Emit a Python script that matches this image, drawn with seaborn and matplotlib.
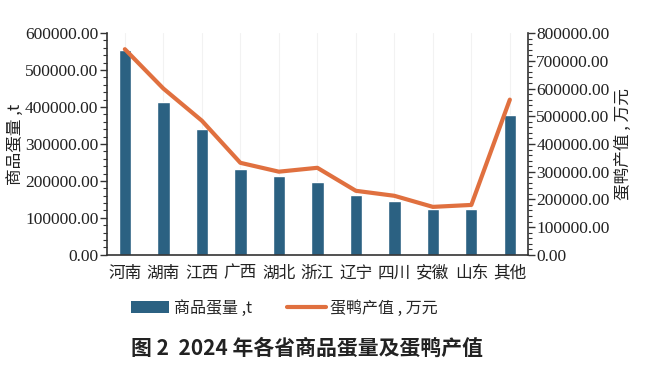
import matplotlib
matplotlib.use("Agg")
import matplotlib.pyplot as plt
from matplotlib.ticker import MultipleLocator, FormatStrFormatter
from matplotlib.patches import Patch
from matplotlib.lines import Line2D
import seaborn as sns
import pandas as pd

# 数据
provinces = ["河南", "湖南", "江西", "广西", "湖北", "浙江", "辽宁", "四川", "安徽", "山东", "其他"]
egg_volume = [555000, 414000, 341000, 231000, 214000, 198000, 162000, 146000, 124000, 124000, 379000]
duck_value = [742000, 600000, 484000, 332000, 300000, 314000, 231000, 213000, 173000, 180000, 560000]

bar_color = "#2b6182"
line_color = "#e0703f"
cjk = ["Noto Sans CJK SC", "DejaVu Sans"]
num_font = "Liberation Serif"

sns.set_theme(style="white")
plt.rcParams["font.family"] = cjk
plt.rcParams["axes.unicode_minus"] = False

df = pd.DataFrame({"省份": provinces, "蛋量": egg_volume, "产值": duck_value})

fig = plt.figure(figsize=(6.55, 3.72), dpi=100)
ax = fig.add_axes([0.163, 0.315, 0.643, 0.596])

sns.barplot(data=df, x="省份", y="蛋量", color=bar_color, width=0.32,
            saturation=1, ax=ax, zorder=2)
ax2 = ax.twinx()
sns.lineplot(data=df, x="省份", y="产值", color=line_color, linewidth=3,
             sort=False, ax=ax2, zorder=3)

ax.set_xlim(-0.47, 10.47)
ax.set_ylim(0, 600000)
ax2.set_ylim(0, 800000)

# 轴格式
for a in (ax, ax2):
    a.yaxis.set_major_locator(MultipleLocator(100000))
    a.yaxis.set_minor_locator(MultipleLocator(20000))
    a.yaxis.set_major_formatter(FormatStrFormatter("%.2f"))
    a.tick_params(axis="y", which="major", length=5, width=1, color="#333333",
                  direction="out", pad=1, labelsize=12.5, labelcolor="#222222",
                  labelfontfamily=num_font)
    a.tick_params(axis="y", which="minor", length=3, width=0.8, color="#333333",
                  direction="out")

ax.tick_params(axis="x", length=0, pad=7, labelsize=12, labelcolor="#222222")

ax.grid(axis="x", color="#f2f2f2", linewidth=0.8)
ax.set_axisbelow(True)

for a in (ax, ax2):
    a.spines["top"].set_visible(False)
    for s in ("left", "right", "bottom"):
        a.spines[s].set_color("#333333")
        a.spines[s].set_linewidth(1.2)
ax.spines["right"].set_visible(False)
ax2.spines["left"].set_visible(False)
ax2.spines["bottom"].set_visible(False)

ax.set_xlabel("")
ax.set_ylabel("商品蛋量 ,t", fontsize=12, color="#222222", labelpad=0)
ax2.set_ylabel("蛋鸭产值 , 万元", fontsize=12, color="#222222", rotation=90,
               labelpad=4)

# 图例
handles = [Patch(facecolor=bar_color, edgecolor="none"),
           Line2D([0], [0], color=line_color, linewidth=3)]
fig.legend(handles, ["商品蛋量 ,t", "蛋鸭产值 , 万元"], loc="center left",
           bbox_to_anchor=(0.178, 0.172), ncol=2, frameon=False, fontsize=11.5,
           handlelength=2.4, handleheight=0.7, columnspacing=2.2, handletextpad=0.3)

fig.text(0.468, 0.065, "图 2  2024 年各省商品蛋量及蛋鸭产值", ha="center", va="center",
         fontsize=15, fontweight="bold", color="#222222")

fig.savefig("out.png", dpi=100)
